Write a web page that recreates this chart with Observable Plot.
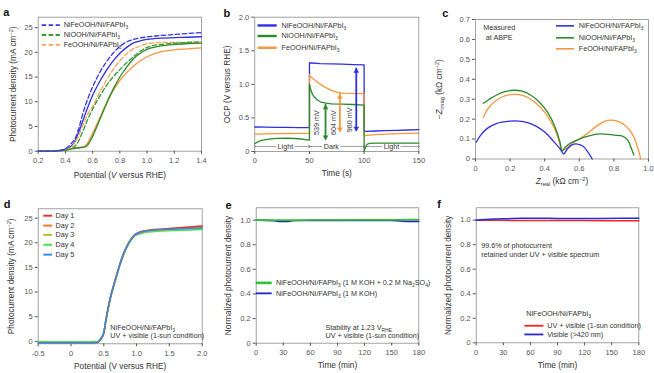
<!DOCTYPE html>
<html><head><meta charset="utf-8">
<script src="https://cdn.jsdelivr.net/npm/d3@7"></script>
<script src="https://cdn.jsdelivr.net/npm/@observablehq/plot@0.6"></script>
<style>
body{margin:0;background:#fff;}
#fig{position:relative;width:654px;height:373px;overflow:hidden;background:#fff;}
</style></head><body><div id="fig"></div>
<script>
// ---------- Panel a data ----------
const aPotential = [0.2,0.3,0.35,0.4,0.42,0.45,0.47,0.5,0.52,0.55,0.57,0.6,0.65,0.7,0.75,0.8,0.85,0.9,0.95,1.0,1.05,1.1,1.2,1.3,1.4];
const aNiFeSolid  = [0,0,0.1,0.4,0.6,1.2,2.0,4.0,5.5,7.8,9.3,11.3,14.0,16.3,18.2,19.8,21.0,21.9,22.3,22.6,22.75,22.85,22.95,23.05,23.15];
const aNiFeDashed = [0,0,0.1,0.5,0.9,1.8,2.5,4.8,6.8,9.5,11.0,13.0,15.8,18.0,19.8,21.2,22.1,22.6,22.9,23.1,23.25,23.4,23.6,23.8,24.0];
const aNiSolid    = [0,0,0.05,0.2,0.3,0.5,0.6,0.7,0.75,0.9,1.5,3.0,6.2,9.5,12.5,15.0,17.0,18.7,19.8,20.6,21.0,21.3,21.6,21.75,21.85];
const aNiDashed   = [0,0,0.05,0.2,0.3,0.6,1.0,2.2,3.5,5.5,6.8,8.5,11.0,13.2,15.0,16.5,17.9,19.1,20.2,21.0,21.4,21.6,21.85,22.0,22.1];
const aFeSolid    = [0,0,0.05,0.2,0.3,0.5,0.6,0.7,0.8,1.2,2.0,3.6,6.6,9.6,12.2,14.3,15.9,17.2,18.3,19.1,19.7,20.1,20.5,20.7,20.9];
const aFeDashed   = [0,0,0.05,0.3,0.5,1.0,1.8,3.3,4.7,6.6,7.8,9.0,11.8,14.3,16.5,18.3,19.7,20.7,21.3,21.7,21.9,22.0,22.0,22.0,22.0];
const aLegendLabels = ["NiFeOOH/Ni/FAPbI_{3}", "NiOOH/Ni/FAPbI_{3}", "FeOOH/Ni/FAPbI_{3}"];
const aLegendY = [25.5, 23.5, 21.5];
const aXTicks = [0.2,0.4,0.6,0.8,1.0,1.2,1.4];
const aYTicks = [0,5,10,15,20,25];

// ---------- Panel b data ----------
const bTimeBlue = [0,10,20,30,40,50,50,52,60,70,80,90,100,100,102,110,120,130,140,150];
const bOcpBlue  = [0.365,0.362,0.36,0.358,0.357,0.357,1.32,1.318,1.31,1.305,1.30,1.295,1.29,0.30,0.30,0.305,0.31,0.315,0.32,0.325];
const bTimeOrange = [0,10,20,30,40,50,50,51,53,56,60,65,70,75,80,90,100,100,102,110,120,130,140,150];
const bOcpOrange  = [0.26,0.262,0.265,0.268,0.27,0.272,1.15,1.11,1.09,1.05,1.0,0.95,0.91,0.885,0.87,0.865,0.862,0.235,0.24,0.25,0.258,0.265,0.27,0.275];
const bTimeGreen = [0,3,6,10,15,20,30,40,50,50,51,52,54,57,60,65,70,80,90,100,100,101,102,103,105,110,120,130,140,150];
const bOcpGreen  = [0.115,0.145,0.165,0.178,0.188,0.195,0.2,0.19,0.168,1.0,0.93,0.88,0.82,0.77,0.74,0.72,0.71,0.705,0.70,0.69,0.005,0.05,0.09,0.11,0.122,0.125,0.125,0.125,0.125,0.125];
const bLegendLabels = ["NiFeOOH/Ni/FAPbI_{3}", "NiOOH/Ni/FAPbI_{3}", "FeOOH/Ni/FAPbI_{3}"];
const bLegendY = [1.877, 1.72, 1.545];
const bArrowTime = [64.7, 77.8, 92.8];
const bArrowLow  = [0.17, 0.29, 0.30];
const bArrowHigh = [0.70, 0.86, 1.24];
const bArrowLabels = ["539 mV", "604 mV", "960 mV"];
const bArrowLabelTime = [56.7, 71.7, 86.4];
const bArrowLabelY = [0.43, 0.43, 0.47];
const bPhaseLabels = ["Light", "Dark", "Light"];
const bPhaseStart = [0, 50, 100];
const bPhaseEnd = [50, 100, 150];
const bPhaseTextStart = [19.5, 61.5, 116.5];
const bPhaseTextEnd = [36.5, 78.5, 133.5];
const bPhaseLabelTime = [28, 70, 125];
const bPhaseY = 0.075;
const bXTicks = [0,50,100,150];
const bYTicks = [0,0.5,1.0,1.5,2.0];

// ---------- Panel c data ----------
const cNiFeReal = [0.005,0.03,0.07,0.12,0.2,0.25,0.3,0.35,0.4,0.45,0.49,0.51,0.53,0.56,0.59,0.62,0.65,0.675];
const cNiFeImag = [0.085,0.12,0.155,0.178,0.19,0.19,0.183,0.165,0.135,0.09,0.05,0.025,0.05,0.072,0.075,0.065,0.035,0];
const cNiReal = [0.045,0.08,0.12,0.17,0.22,0.27,0.32,0.37,0.42,0.46,0.49,0.5,0.52,0.55,0.6,0.65,0.7,0.75,0.8,0.85,0.88,0.9,0.915];
const cNiImag = [0.28,0.3,0.32,0.338,0.345,0.34,0.32,0.285,0.23,0.16,0.08,0.04,0.06,0.08,0.1,0.115,0.125,0.125,0.12,0.115,0.095,0.055,0.02];
const cFeReal = [0.045,0.07,0.1,0.15,0.2,0.25,0.3,0.35,0.4,0.45,0.48,0.5,0.52,0.56,0.6,0.65,0.7,0.75,0.78,0.82,0.87,0.91,0.94,0.955];
const cFeImag = [0.21,0.25,0.28,0.31,0.323,0.323,0.31,0.28,0.235,0.165,0.1,0.045,0.05,0.08,0.1,0.13,0.165,0.19,0.195,0.19,0.165,0.12,0.05,0];
const cLegendLabels = ["NiFeOOH/Ni/FAPbI_{3}", "NiOOH/Ni/FAPbI_{3}", "FeOOH/Ni/FAPbI_{3}"];
const cLegendY = [0.668, 0.608, 0.553];
const cNote = ["Measured", "at ABPE"];
const cNoteY = [0.658, 0.61];
const cXTicks = [0,0.2,0.4,0.6,0.8,1.0];
const cYTicks = [0,0.1,0.2,0.3,0.4,0.5,0.6,0.7];

// ---------- Panel d data ----------
const dPotential = [-0.5,-0.2,0,0.2,0.4,0.44,0.47,0.5,0.53,0.56,0.6,0.65,0.7,0.75,0.8,0.85,0.9,0.95,1.0,1.05,1.1,1.2,1.4,1.6,1.8,2.0];
const dDay1 = [-0.3,-0.3,-0.3,-0.3,-0.25,0.2,0.8,1.8,4.2,6.4,8.9,11.4,13.7,15.9,17.8,19.3,20.5,21.4,21.9,22.2,22.4,22.6,22.8,23.0,23.2,23.4];
const dDay2 = [-0.3,-0.3,-0.3,-0.3,-0.25,0.2,0.7,1.7,4.1,6.3,8.8,11.3,13.6,15.8,17.7,19.2,20.4,21.3,21.8,22.1,22.3,22.5,22.7,22.9,23.1,23.3];
const dDay3 = [-0.3,-0.3,-0.3,-0.3,-0.25,0.2,0.7,1.6,4.0,6.2,8.7,11.2,13.5,15.7,17.6,19.1,20.3,21.2,21.7,22.0,22.2,22.4,22.6,22.8,22.9,23.0];
const dDay4 = [-0.05,-0.1,-0.1,-0.1,-0.05,0.4,0.9,1.7,4.0,6.1,8.6,11.1,13.4,15.6,17.5,19.0,20.2,21.1,21.6,21.8,22.0,22.2,22.4,22.5,22.6,22.7];
const dDay5 = [-0.3,-0.3,-0.3,-0.3,-0.25,0.2,0.8,1.8,4.2,6.4,8.9,11.3,13.6,15.8,17.7,19.2,20.4,21.3,21.8,22.1,22.3,22.5,22.7,22.8,22.9,23.0];
const dLegendLabels = ["Day 1", "Day 2", "Day 3", "Day 4", "Day 5"];
const dLegendY = [25.5, 23.5, 21.6, 19.6, 17.6];
const dNote = ["NiFeOOH/Ni/FAPbI_{3}", "UV + visible (1-sun condition)"];
const dNoteY = [2.85, 1.1];
const dXTicks = [-0.5,0,0.5,1.0,1.5,2.0];
const dYTicks = [0,5,10,15,20,25];

// ---------- Panel e data ----------
const eTime = [0,10,20,25,30,35,40,50,60,90,120,150,160,165,170,180];
const eNa2SO4 = [1.0,1.0,1.0,1.0,1.0,1.0,1.0,1.0,1.001,1.001,1.002,1.002,1.003,1.003,1.004,1.005];
const eKOH    = [1.0,0.998,0.995,0.99,0.989,0.99,0.995,0.997,0.998,0.998,0.998,0.997,0.993,0.99,0.99,0.99];
const eLegendLabels = ["NiFeOOH/Ni/FAPbI_{3} (1 M KOH + 0.2 M Na_{2}SO_{4})", "NiFeOOH/Ni/FAPbI_{3} (1 M KOH)"];
const eLegendY = [0.49, 0.405];
const eNote = ["Stability at 1.23 V_{RHE}", "UV + visible (1-sun condition)"];
const eNoteY = [0.13, 0.057];
const eXTicks = [0,30,60,90,120,150,180];
const eYTicks = [0,0.2,0.4,0.6,0.8,1.0];

// ---------- Panel f data ----------
const fTime = [0,5,10,20,30,40,50,60,70,80,90,100,120,140,160,180];
const fUVVis = [0.998,0.998,0.998,0.998,0.998,0.997,0.997,0.997,0.997,0.996,0.996,0.996,0.996,0.995,0.995,0.994];
const fVis   = [0.998,1.002,1.005,1.008,1.01,1.012,1.014,1.015,1.015,1.014,1.013,1.012,1.012,1.013,1.014,1.015];
const fNote = ["99.6% of photocurrent", "retained under UV + visible spectrum"];
const fNoteY = [0.79, 0.714];
const fLegendTitle = "NiFeOOH/Ni/FAPbI_{3}";
const fLegendTitleY = 0.234;
const fLegendLabels = ["UV + visible (1-sun condition)", "Visible (>420 nm)"];
const fLegendY = [0.139, 0.068];
const fXTicks = [0,30,60,90,120,150,180];
const fYTicks = [0,0.2,0.4,0.6,0.8,1.0];

// ---------- helpers ----------
const FONT = '"Liberation Sans", Arial, Helvetica, sans-serif';
const FR = "#8c8c8c";
const TXT = 7.2;
const TICK = 7.5;
const TITLE = 8.3;
const fig = document.getElementById("fig");
const fmt1 = d => d === 0 ? "0" : d.toFixed(1);
const zip = (xs, ys) => xs.map((x, i) => ({x, y: ys[i]}));

function panel(o, marks) {
  const svg = Plot.plot({
    width: o.w, height: o.h,
    marginLeft: o.ml, marginRight: o.mr, marginTop: o.mt, marginBottom: o.mb,
    x: {domain: o.xd}, y: {domain: o.yd},
    style: `font-family:${FONT};color:#333;background:transparent;overflow:visible;position:absolute;left:${o.left}px;top:${o.top}px;max-width:none;`,
    marks
  });
  fig.appendChild(svg);
  return svg;
}
function axes(xt, yt, xf, yf) {
  return [
    Plot.axisX(xt, {tickSize: 3, tickPadding: 3.5, tickFormat: xf, fontSize: TICK, color: "#555", label: null}),
    Plot.axisY(yt, {tickSize: 3, tickPadding: 2.5, tickFormat: yf, fontSize: TICK, color: "#555", label: null})
  ];
}
function titles(xt, yt, xdy, ydx) {
  return [
    Plot.text([xt], {text: d => d, frameAnchor: "bottom", dy: xdy, fontSize: TITLE, textAnchor: "middle", lineAnchor: "middle", fill: "#333"}),
    Plot.text([yt], {text: d => d, frameAnchor: "left", dx: ydx, rotate: -90, fontSize: TITLE, textAnchor: "middle", lineAnchor: "middle", fill: "#333"})
  ];
}
function letter(l, dx, dy) {
  return Plot.text([l], {text: d => d, frameAnchor: "top-left", dx, dy, fontSize: 11, fontWeight: "bold", textAnchor: "start", lineAnchor: "middle", fill: "#111"});
}
function legend(labels, ys, x1, x2, xt, colors, sw, dash) {
  const rows = labels.map((label, i) => ({label, y: ys[i], x1, x2, xt}));
  const m = rows.map((r, i) => Plot.ruleY([r], {y: "y", x1: "x1", x2: "x2", stroke: colors[i], strokeWidth: Array.isArray(sw) ? sw[i] : sw, ...(dash ? {strokeDasharray: dash} : {})}));
  m.push(Plot.text(rows, {x: "xt", y: "y", text: "label", textAnchor: "start", fontSize: TXT, fill: "#333", lineAnchor: "middle"}));
  return m;
}
function notes(lines, ys, x, anchor) {
  return Plot.text(lines.map((t, i) => ({t, y: ys[i], x})), {x: "x", y: "y", text: "t", textAnchor: anchor || "start", fontSize: TXT, fill: "#333", lineAnchor: "middle"});
}
function richify(root) {
  root.querySelectorAll("text").forEach(t => {
    const s = t.textContent;
    if (!/[_^]\{|\*/.test(s)) return;
    const fs = parseFloat(getComputedStyle(t).fontSize) || 8;
    t.textContent = "";
    let shift = 0;
    s.split(/(_\{[^}]*\}|\^\{[^}]*\}|\*[^*]+\*)/g).forEach(part => {
      if (!part) return;
      const ts = document.createElementNS("http://www.w3.org/2000/svg", "tspan");
      let target = 0, txt = part, small = false, ital = false;
      if (part.startsWith("_{")) { target = 0.28 * fs; txt = part.slice(2, -1); small = true; }
      else if (part.startsWith("^{")) { target = -0.38 * fs; txt = part.slice(2, -1); small = true; }
      else if (part.startsWith("*")) { txt = part.slice(1, -1); ital = true; }
      const dy = target - shift; shift = target;
      if (dy) ts.setAttribute("dy", dy.toFixed(2));
      if (small) ts.setAttribute("font-size", (0.68 * fs).toFixed(2));
      if (ital) ts.setAttribute("font-style", "italic");
      ts.textContent = txt;
      t.appendChild(ts);
    });
  });
}

// ---------- colours ----------
const BLUE = "#2f2fe0", GREEN = "#2a8a2a", ORANGE = "#f5963a";
const BLUE_D = "#3535e6", GREEN_D = "#379a37", ORANGE_D = "#f7a457";

// ---------- Panel a ----------
const aSeries = [
  {v: aFeSolid, c: ORANGE, dash: false}, {v: aNiSolid, c: GREEN, dash: false}, {v: aNiFeSolid, c: BLUE, dash: false},
  {v: aFeDashed, c: ORANGE_D, dash: true}, {v: aNiDashed, c: GREEN_D, dash: true}, {v: aNiFeDashed, c: BLUE_D, dash: true}
];
panel({left: 0, top: 0, w: 215, h: 185, ml: 37.7, mr: 14, mt: 16.7, mb: 34.3, xd: [0.2, 1.4], yd: [0, 27.1]}, [
  Plot.frame({stroke: FR, strokeWidth: 0.8}),
  ...axes(aXTicks, aYTicks, fmt1, String),
  ...aSeries.map(s => Plot.line(zip(aPotential, s.v), {x: "x", y: "y", stroke: s.c, strokeWidth: 1.3, curve: "monotone-x", ...(s.dash ? {strokeDasharray: "4.5,2.5"} : {})})),
  ...legend(aLegendLabels, aLegendY, 0.229, 0.363, 0.387, [BLUE_D, GREEN_D, ORANGE_D], 1.8, "4.5,2.5"),
  ...titles("Potential (*V* versus RHE)", "Photocurrent density (mA cm^{−2})", 24.5, -25),
  letter("a", -35, -4.5)
]);

// ---------- Panel b ----------
const bPhase = bPhaseLabels.map((label, i) => ({label, s: bPhaseStart[i], e: bPhaseEnd[i], ts: bPhaseTextStart[i], te: bPhaseTextEnd[i], t: bPhaseLabelTime[i], y: bPhaseY}));
const bArrows = bArrowTime.map((t, i) => ({t, lo: bArrowLow[i], hi: bArrowHigh[i]}));
const bArrowColors = [GREEN, ORANGE, BLUE];
panel({left: 215, top: 0, w: 215, h: 185, ml: 39.3, mr: 11.7, mt: 16.7, mb: 34, xd: [0, 150], yd: [0, 2]}, [
  Plot.frame({stroke: FR, strokeWidth: 0.8}),
  ...axes(bXTicks, bYTicks, String, fmt1),
  Plot.line(zip(bTimeBlue, bOcpBlue), {x: "x", y: "y", stroke: BLUE, strokeWidth: 1.3}),
  Plot.line(zip(bTimeOrange, bOcpOrange), {x: "x", y: "y", stroke: ORANGE, strokeWidth: 1.3}),
  Plot.line(zip(bTimeGreen, bOcpGreen), {x: "x", y: "y", stroke: GREEN, strokeWidth: 1.3}),
  ...bArrows.map((a, i) => Plot.ruleX([a], {x: "t", y1: "lo", y2: "hi", stroke: bArrowColors[i], strokeWidth: 1.8})),
  ...bArrows.map((a, i) => Plot.dot([a], {x: "t", y: "hi", symbol: "triangle", r: 2.1, fill: bArrowColors[i], stroke: "none", dy: 3})),
  ...bArrows.map((a, i) => Plot.dot([a], {x: "t", y: "lo", symbol: "triangle", r: 2.1, rotate: 180, fill: bArrowColors[i], stroke: "none", dy: -3})),
  Plot.text(bArrowLabels.map((l, i) => ({l, t: bArrowLabelTime[i], y: bArrowLabelY[i]})), {x: "t", y: "y", text: "l", rotate: -90, fontSize: TXT, fill: "#333", lineAnchor: "middle"}),
  Plot.link(bPhase, {x1: "s", x2: "ts", y1: "y", y2: "y", stroke: "#777", strokeWidth: 0.7, markerStart: "arrow"}),
  Plot.link(bPhase, {x1: "te", x2: "e", y1: "y", y2: "y", stroke: "#777", strokeWidth: 0.7, markerEnd: "arrow"}),
  Plot.text(bPhase, {x: "t", y: "y", text: "label", fontSize: TXT, fill: "#333", lineAnchor: "middle"}),
  ...legend(bLegendLabels, bLegendY, 3, 20.5, 24.5, [BLUE, GREEN, ORANGE], 2.4),
  ...titles("Time (s)", "OCP (V versus RHE)", 21.7, -27.8),
  letter("b", -31.3, -4)
]);

// ---------- Panel c ----------
panel({left: 430, top: 0, w: 224, h: 190, ml: 45, mr: 6, mt: 19, mb: 31.5, xd: [0, 1.0], yd: [0, 0.7]}, [
  Plot.frame({stroke: FR, strokeWidth: 0.8}),
  ...axes(cXTicks, cYTicks, fmt1, fmt1),
  Plot.line(zip(cFeReal, cFeImag), {x: "x", y: "y", stroke: ORANGE, strokeWidth: 1.3, curve: "catmull-rom"}),
  Plot.line(zip(cNiReal, cNiImag), {x: "x", y: "y", stroke: GREEN, strokeWidth: 1.3, curve: "catmull-rom"}),
  Plot.line(zip(cNiFeReal, cNiFeImag), {x: "x", y: "y", stroke: BLUE, strokeWidth: 1.3, curve: "catmull-rom"}),
  ...legend(cLegendLabels, cLegendY, 0.468, 0.572, 0.597, [BLUE, GREEN, ORANGE], 1.6),
  notes(cNote, cNoteY, 0.137, "middle"),
  ...titles("*Z*_{real} (kΩ cm^{−2})", "−*Z*_{imag} (kΩ cm^{−2})", 22.5, -36),
  letter("c", -33.3, -5.7)
]);

// ---------- Panel d ----------
const dColors = ["#e8312c", "#ef7b2c", "#b4c12e", "#48e04a", "#2f8fe6"];
const dSeries = [dDay4, dDay3, dDay2, dDay1, dDay5];
const dSeriesColors = [dColors[3], dColors[2], dColors[1], dColors[0], dColors[4]];
panel({left: 0, top: 185, w: 215, h: 188, ml: 37.7, mr: 13.3, mt: 23.3, mb: 29.7, xd: [-0.5, 2.0], yd: [-0.5, 26.9]}, [
  Plot.frame({stroke: FR, strokeWidth: 0.8}),
  ...axes(dXTicks, dYTicks, fmt1, String),
  ...dSeries.map((v, i) => Plot.line(zip(dPotential, v), {x: "x", y: "y", stroke: dSeriesColors[i], strokeWidth: 1.5, curve: "monotone-x"})),
  ...legend(dLegendLabels, dLegendY, -0.415, -0.28, -0.236, dColors, 2),
  notes(dNote, dNoteY, 0.6),
  ...titles("Potential (V versus RHE)", "Photocurrent density (mA cm^{−2})", 22.2, -26.7),
  letter("d", -34.4, -4.6)
]);

// ---------- Panel e ----------
const E_GREEN = "#2ec42e", E_BLUE = "#2424c4";
panel({left: 215, top: 185, w: 215, h: 188, ml: 40.7, mr: 11.7, mt: 22.3, mb: 30.3, xd: [0, 180], yd: [0, 1.1]}, [
  Plot.frame({stroke: FR, strokeWidth: 0.8}),
  ...axes(eXTicks, eYTicks, String, fmt1),
  Plot.line(zip(eTime, eKOH), {x: "x", y: "y", stroke: E_BLUE, strokeWidth: 1.6}),
  Plot.line(zip(eTime, eNa2SO4), {x: "x", y: "y", stroke: E_GREEN, strokeWidth: 1.6}),
  ...legend(eLegendLabels, eLegendY, 0, 17.7, 22, [E_GREEN, E_BLUE], [2.6, 1.8]),
  notes(eNote, eNoteY, 76.7),
  ...titles("Time (min)", "Normalized photocurrent density", 22.5, -28.2),
  letter("e", -30.7, -2.8)
]);

// ---------- Panel f ----------
const F_RED = "#f02424", F_BLUE = "#2a2ad0";
panel({left: 430, top: 185, w: 224, h: 188, ml: 45.7, mr: 15.7, mt: 22.3, mb: 30.7, xd: [0, 180], yd: [0, 1.1]}, [
  Plot.frame({stroke: FR, strokeWidth: 0.8}),
  ...axes(fXTicks, fYTicks, String, fmt1),
  Plot.line(zip(fTime, fUVVis), {x: "x", y: "y", stroke: F_RED, strokeWidth: 1.5}),
  Plot.line(zip(fTime, fVis), {x: "x", y: "y", stroke: F_BLUE, strokeWidth: 1.5}),
  notes(fNote, fNoteY, 5.5),
  notes([fLegendTitle], [fLegendTitleY], 55.4),
  ...legend(fLegendLabels, fLegendY, 53.8, 74.9, 78.6, [F_RED, F_BLUE], 1.8),
  ...titles("Time (min)", "Normalized photocurrent density", 22.7, -28.2),
  letter("f", -39, -3.6)
]);

richify(fig);
</script></body></html>
